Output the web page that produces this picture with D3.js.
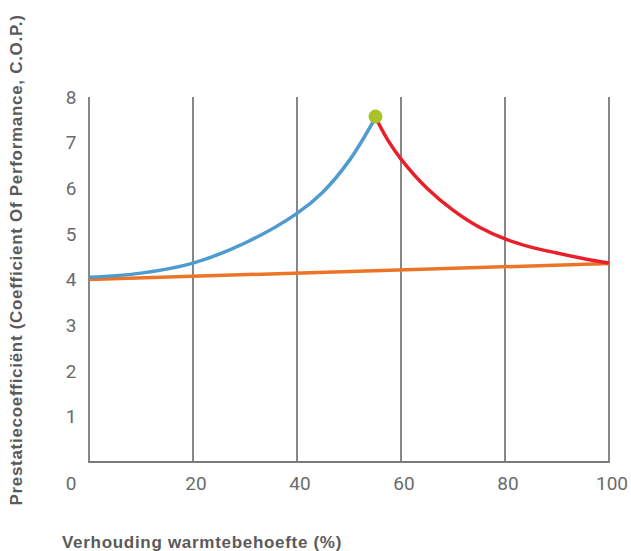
<!DOCTYPE html>
<html>
<head>
<meta charset="utf-8">
<script src="https://cdn.jsdelivr.net/npm/d3@7"></script>
<style>
  html, body { margin: 0; padding: 0; background: #fff; }
  svg { display: block; }
</style>
</head>
<body>
<svg id="chart" width="631" height="551"></svg>
<script>
// ---- data ----
const xTicks = [0, 20, 40, 60, 80, 100];
const yTicks = [1, 2, 3, 4, 5, 6, 7, 8];
const blueX = [0, 10, 20, 30, 40, 45, 50, 55.1];
const blueY = [4.05, 4.14, 4.36, 4.8, 5.45, 5.92, 6.6, 7.55];
const redX = [55.1, 57.5, 60, 65, 70, 75, 80, 85, 90, 95, 100];
const redY = [7.55, 7.05, 6.64, 6.0, 5.52, 5.15, 4.89, 4.71, 4.58, 4.46, 4.36];
const orangeX = [0, 100];
const orangeY = [4.0, 4.35];
const peak = [55.1, 7.57];
const xTitle = "Verhouding warmtebehoefte (%)";
const yTitle = "Prestatiecoefficiënt (Coefficient Of Performance, C.O.P.)";

// ---- layout ----
const svg = d3.select("#chart");
const x = d3.scaleLinear().domain([0, 100]).range([89, 609]);
const y = d3.scaleLinear().domain([0, 8]).range([462, 97]);

const gridColor = "#7a7a7a";
const textColor = "#6b6b6b";
const tickFont = "'Liberation Sans Narrow', Roboto, 'Liberation Sans', sans-serif";

// vertical grid lines
svg.append("g").selectAll("line").data(xTicks).join("line")
  .attr("x1", d => x(d)).attr("x2", d => x(d))
  .attr("y1", y(0)).attr("y2", y(8))
  .attr("stroke", gridColor).attr("stroke-width", 1.8);

// bottom axis line
svg.append("line")
  .attr("x1", x(0) - 0.9).attr("x2", x(100) + 0.9)
  .attr("y1", y(0)).attr("y2", y(0))
  .attr("stroke", gridColor).attr("stroke-width", 1.8);

// y tick labels
svg.append("g").selectAll("text").data(yTicks).join("text")
  .attr("x", 71).attr("y", d => y(d))
  .attr("dy", "0.36em")
  .attr("text-anchor", "middle")
  .attr("font-family", tickFont)
  .attr("font-size", 19)
  .attr("fill", textColor)
  .text(d => d);

// x tick labels (0 sits at the corner)
svg.append("g").selectAll("text").data(xTicks).join("text")
  .attr("x", d => d === 0 ? 71 : x(d) + 3)
  .attr("y", 483)
  .attr("dy", "0.36em")
  .attr("text-anchor", "middle")
  .attr("font-family", tickFont)
  .attr("font-size", 19)
  .attr("fill", textColor)
  .text(d => d);

// axis titles
svg.append("text")
  .attr("x", 62).attr("y", 548)
  .attr("font-family", "'Liberation Sans', Arial, sans-serif")
  .attr("font-weight", "bold")
  .attr("font-size", 17)
  .attr("letter-spacing", 0.7)
  .attr("fill", "#5a5a5a")
  .text(xTitle);

svg.append("text")
  .attr("transform", "translate(16,260) rotate(-90)")
  .attr("dy", "0.36em")
  .attr("text-anchor", "middle")
  .attr("font-family", "'Liberation Sans', Arial, sans-serif")
  .attr("font-weight", "bold")
  .attr("font-size", 17)
  .attr("letter-spacing", 0.7)
  .attr("fill", "#5a5a5a")
  .text(yTitle);

// lines
const line = d3.line().x(d => x(d[0])).y(d => y(d[1])).curve(d3.curveCatmullRom.alpha(0.5));

svg.append("path")
  .datum(orangeX.map((v, i) => [v, orangeY[i]]))
  .attr("d", line).attr("fill", "none")
  .attr("stroke", "#ec7426").attr("stroke-width", 3.5);

svg.append("path")
  .datum(blueX.map((v, i) => [v, blueY[i]]))
  .attr("d", line).attr("fill", "none")
  .attr("stroke", "#4d9bcf").attr("stroke-width", 3.5);

svg.append("path")
  .datum(redX.map((v, i) => [v, redY[i]]))
  .attr("d", line).attr("fill", "none")
  .attr("stroke", "#e8202b").attr("stroke-width", 3.5);

svg.append("circle")
  .attr("cx", x(peak[0])).attr("cy", y(peak[1]))
  .attr("r", 7)
  .attr("fill", "#a9c229");
</script>
</body>
</html>
